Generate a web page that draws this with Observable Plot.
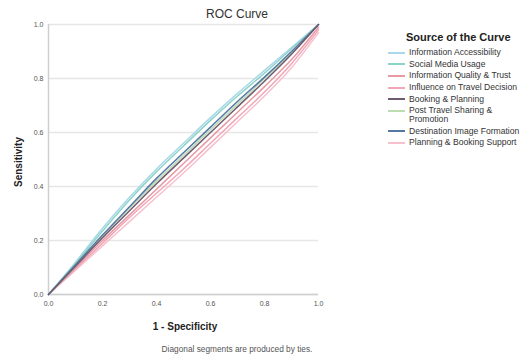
<!DOCTYPE html>
<html><head><meta charset="utf-8">
<script src="https://cdn.jsdelivr.net/npm/d3@7"></script>
<script src="https://cdn.jsdelivr.net/npm/@observablehq/plot@0.6"></script>
<style>
body{margin:0;background:#fff;font-family:"Liberation Sans",Arial,sans-serif;overflow:hidden;}
#wrap{position:relative;width:528px;height:358px;overflow:hidden;}
.t{position:absolute;color:#222;white-space:nowrap;}
#legend{position:absolute;left:386px;top:31px;width:142px;font-size:8.6px;color:#333;}
#legend .h{font-weight:bold;font-size:11px;margin-left:20px;margin-bottom:5px;color:#222;white-space:nowrap;}
#legend .r{display:flex;align-items:flex-start;line-height:8.5px;margin-bottom:3.2px;}
#legend .r div:last-child{white-space:nowrap;}
#legend .sw{width:17px;height:2px;margin:3.5px 4px 0 2px;flex:none;}
</style></head><body>
<div id="wrap"></div>
<script>
const seriesNames = ["Information Accessibility","Social Media Usage","Information Quality & Trust","Influence on Travel Decision","Booking & Planning","Post Travel Sharing & Promotion","Destination Image Formation","Planning & Booking Support"];
const seriesColors = ["#a8d8ea","#8fd3c8","#e79aa4","#f2a7b8","#6f5b6e","#bcdcb4","#5577a6","#f6c0cf"];
const fpr = [0,0.1,0.2,0.3,0.4,0.5,0.6,0.7,0.8,0.9,1];
const tprInfoAccess   = [0,0.12,0.245,0.36,0.465,0.56,0.655,0.745,0.83,0.915,1];
const tprSocialMedia  = [0,0.115,0.235,0.35,0.455,0.55,0.645,0.735,0.82,0.91,1];
const tprInfoQuality  = [0,0.1,0.2,0.295,0.39,0.485,0.58,0.675,0.77,0.87,0.99];
const tprInfluence    = [0,0.095,0.19,0.285,0.375,0.465,0.56,0.655,0.75,0.855,0.98];
const tprBooking      = [0,0.105,0.21,0.31,0.41,0.505,0.6,0.695,0.79,0.89,1];
const tprPostTravel   = [0,0.105,0.215,0.32,0.42,0.515,0.61,0.705,0.8,0.895,1];
const tprDestination  = [0,0.11,0.22,0.325,0.43,0.525,0.62,0.715,0.805,0.9,1];
const tprPlanSupport  = [0,0.09,0.18,0.27,0.36,0.45,0.545,0.64,0.735,0.84,0.97];
const tickValues = [0,0.2,0.4,0.6,0.8,1.0];
const tprs = [tprInfoAccess,tprSocialMedia,tprInfoQuality,tprInfluence,tprBooking,tprPostTravel,tprDestination,tprPlanSupport];

const rows = [];
tprs.forEach((arr,i)=>arr.forEach((v,j)=>rows.push({s:seriesNames[i],x:fpr[j],y:v})));
const order = [7,3,2,5,0,1,6,4];
const sorted = order.flatMap(i=>rows.filter(r=>r.s===seriesNames[i]));

const chart = Plot.plot({
  width:528,height:358,
  marginLeft:48,marginRight:210,marginTop:24,marginBottom:64,
  style:{fontFamily:"Liberation Sans, Arial, sans-serif",fontSize:"7px",color:"#555"},
  x:{domain:[0,1],ticks:tickValues,tickFormat:d3.format(".1f"),tickSize:0,tickPadding:7,label:null},
  y:{domain:[0,1],ticks:tickValues,tickFormat:d3.format(".1f"),tickSize:0,tickPadding:5,label:null},
  color:{domain:seriesNames,range:seriesColors},
  marks:[
    Plot.gridY(tickValues,{stroke:"#e6e6e6",strokeOpacity:1,strokeWidth:1.5}),
    Plot.ruleX([0],{stroke:"#cfcfcf",strokeWidth:1.5}),
    Plot.ruleY([0],{stroke:"#cfcfcf",strokeWidth:1.5}),
    Plot.line(sorted,{x:"x",y:"y",z:"s",stroke:"s",strokeWidth:1.5,curve:"monotone-x"})
  ]
});
const wrap = document.getElementById("wrap");
wrap.appendChild(chart);

function txt(s,cx,cy,css){const d=document.createElement("div");d.className="t";d.textContent=s;Object.assign(d.style,css||{});d.style.left=cx+"px";d.style.top=cy+"px";d.style.transform=(css&&css.rot?"translate(-50%,-50%) rotate(-90deg)":"translate(-50%,-50%)");wrap.appendChild(d);return d;}
txt("ROC Curve",237,14,{fontSize:"12px",color:"#333"});
txt("1 - Specificity",185,326,{fontSize:"10px",fontWeight:"bold"});
txt("Diagonal segments are produced by ties.",237,349,{fontSize:"8.3px",color:"#555"});
txt("Sensitivity",18,162,{fontSize:"10px",fontWeight:"bold",rot:true});

const lg=document.createElement("div");lg.id="legend";
lg.innerHTML='<div class="h">Source of the Curve</div>'+seriesNames.map((n,i)=>{
  const label = n==="Post Travel Sharing & Promotion" ? "Post Travel Sharing &amp;<br>Promotion" : n.replace(/&/g,"&amp;");
  return `<div class="r"><div class="sw" style="background:${seriesColors[i]}"></div><div>${label}</div></div>`;}).join("");
wrap.appendChild(lg);
</script>
</body></html>
